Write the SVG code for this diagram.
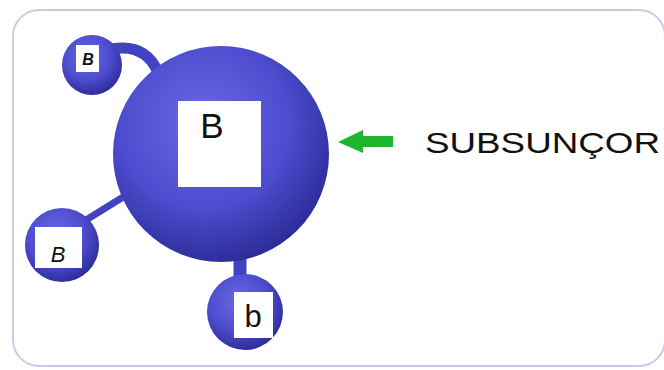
<svg xmlns="http://www.w3.org/2000/svg" width="664" height="370" viewBox="0 0 664 370">
<defs>
<radialGradient id="sph" cx="0.42" cy="0.36" r="0.66">
<stop offset="0" stop-color="#6a6ae6"/>
<stop offset="0.6" stop-color="#4c4cce"/>
<stop offset="1" stop-color="#2c2c98"/>
</radialGradient>
<style>
.tube{fill:none;stroke:#4242c4;stroke-linecap:round}
.box{fill:#ffffff}
.lbl{font-family:"Liberation Sans",Arial,sans-serif;fill:#111111;text-anchor:middle}
</style>
</defs>
<rect x="13" y="10" width="652" height="356" rx="26" fill="#ffffff" stroke="#cacae6" stroke-width="2"/>
<g id="connectors">
<path class="tube" d="M112 49 Q145 43 158 72" stroke-width="11"/>
<path class="tube" d="M86 220 L128 194" stroke-width="7"/>
<path class="tube" d="M240 250 L240 282" stroke-width="13" stroke-linecap="butt"/>
<polygon id="arrow" points="338,142 363,130 363,136 393,136 393,147 363,147 363,153" fill="#1fb52f"/>
</g>
<g id="main">
<circle cx="221" cy="154" r="108" fill="url(#sph)"/>
<rect class="box" x="178" y="101" width="83" height="86"/>
<text class="lbl" x="212" y="138" font-size="35">B</text>
</g>
<g id="topleft">
<circle cx="92" cy="65" r="30" fill="url(#sph)"/>
<rect class="box" x="76" y="45" width="23" height="27"/>
<text class="lbl" x="88" y="65" font-size="16" font-style="italic" font-weight="bold">B</text>
</g>
<g id="left">
<circle cx="62" cy="245" r="37" fill="url(#sph)"/>
<rect class="box" x="35" y="227" width="47" height="41"/>
<text class="lbl" x="58" y="262" font-size="22" font-style="italic">B</text>
</g>
<g id="bottom">
<circle cx="245" cy="312" r="38" fill="url(#sph)"/>
<rect class="box" x="234" y="292" width="39" height="46"/>
<text class="lbl" x="253" y="327" font-size="31">b</text>
</g>
<g id="label">
<text x="425" y="153" font-family="'Liberation Sans',Arial,sans-serif" font-size="30" fill="#111111" textLength="235" lengthAdjust="spacingAndGlyphs">SUBSUNÇOR</text>
</g>
</svg>
